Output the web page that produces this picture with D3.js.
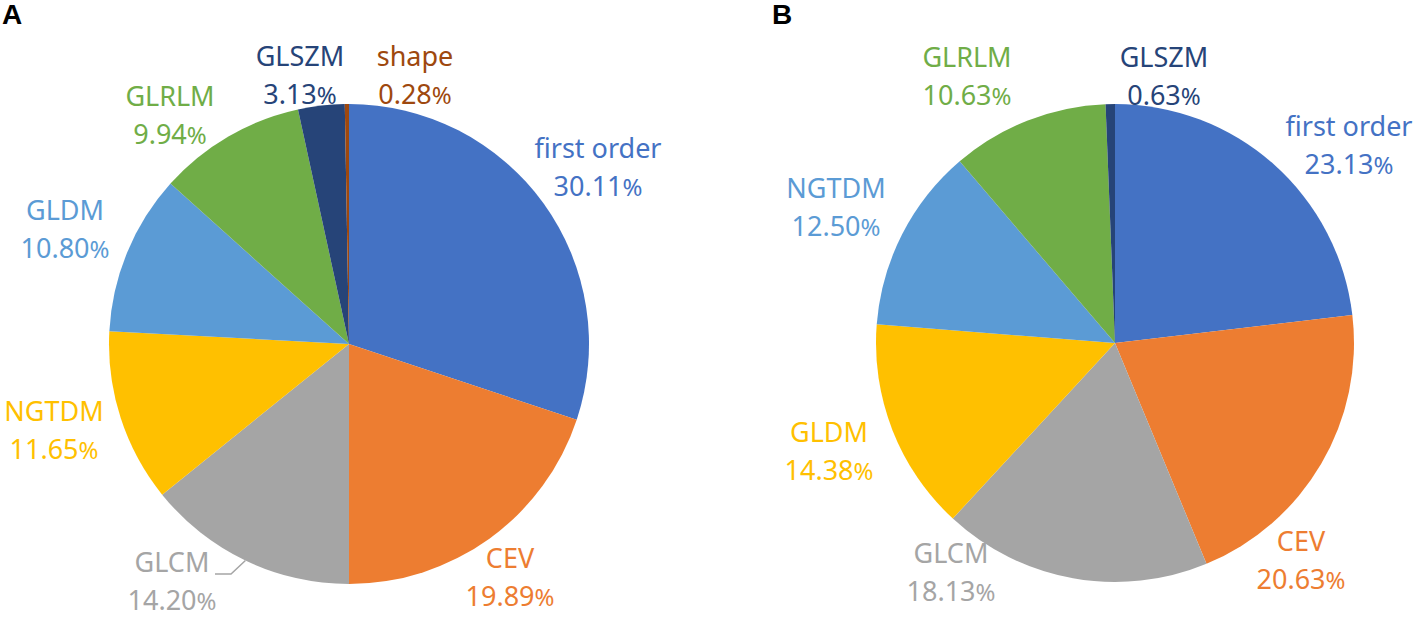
<!DOCTYPE html>
<html>
<head>
<meta charset="utf-8">
<script src="https://cdn.jsdelivr.net/npm/d3@7"></script>
<style>
  html, body { margin: 0; padding: 0; background: #ffffff; }
  svg { display: block; }
</style>
</head>
<body>
<svg id="chart" width="1417" height="617"></svg>
<script>
// ---------- data ----------
const categoriesA = ["first order", "CEV", "GLCM", "NGTDM", "GLDM", "GLRLM", "GLSZM", "shape"];
const valuesA     = [30.11, 19.89, 14.20, 11.65, 10.80, 9.94, 3.13, 0.28];

const categoriesB = ["first order", "CEV", "GLCM", "GLDM", "NGTDM", "GLRLM", "GLSZM"];
const valuesB     = [23.13, 20.63, 18.13, 14.38, 12.50, 10.63, 0.63];

const palette = ["#4472C4", "#ED7D31", "#A5A5A5", "#FFC000", "#5B9BD5", "#70AD47", "#264478", "#9E480E"];

// ---------- layout (label anchors relative to pie centre) ----------
const labelOffsetsA = [[249, -186], [161, 224], [-177, 228], [-295, 77], [-284, -124], [-179, -238], [-49, -278], [66, -278]];
const labelOffsetsB = [[234, -207], [186, 208], [-164, 220], [-286, 99], [-279, -145], [-148, -276], [49, -276]];

const svg = d3.select("#chart");
const FONT = "'Noto Sans', 'DejaVu Sans', sans-serif";

function drawPie(cfg) {
  const g = svg.append("g").attr("transform", `translate(${cfg.cx},${cfg.cy})`);
  const pie = d3.pie().sort(null).value(d => d.value).startAngle(0).endAngle(2 * Math.PI);
  const data = cfg.categories.map((c, i) => ({ name: c, value: cfg.values[i], idx: i }));
  const arcs = pie(data);
  const arc = d3.arc().innerRadius(0).outerRadius(cfg.r);
  const color = d3.scaleOrdinal().domain(d3.range(palette.length)).range(palette);

  g.selectAll("path.slice").data(arcs).enter().append("path")
    .attr("class", "slice")
    .attr("d", arc)
    .attr("fill", d => color(d.data.idx));

  // leader lines
  if (cfg.leader) {
    cfg.leader.forEach(li => {
      const a = arcs[li];
      const mid = (a.startAngle + a.endAngle) / 2;
      const px = cfg.r * Math.sin(mid), py = -cfg.r * Math.cos(mid);
      const off = cfg.offsets[li];
      const lx = off[0] + 43, ly = off[1] + 2;
      g.append("polyline")
        .attr("points", [[lx, ly], [lx + 16, ly], [px, py]].map(p => p.join(",")).join(" "))
        .attr("fill", "none")
        .attr("stroke", color(li))
        .attr("stroke-width", 1.5);
    });
  }

  const lab = g.selectAll("g.lab").data(arcs).enter().append("g")
    .attr("class", "lab")
    .attr("transform", d => `translate(${cfg.offsets[d.data.idx][0]},${cfg.offsets[d.data.idx][1]})`)
    .attr("fill", d => color(d.data.idx))
    .attr("font-family", FONT)
    .attr("font-size", 27)
    .attr("text-anchor", "middle");

  lab.append("text").attr("y", 0).text(d => d.data.name);
  const pct = lab.append("text").attr("y", 38);
  pct.append("tspan").text(d => d.data.value.toFixed(2));
  pct.append("tspan").attr("font-size", 24).text("%");

  svg.append("text")
    .attr("x", cfg.letterX).attr("y", 24)
    .attr("font-family", "'Liberation Sans', Arial, sans-serif")
    .attr("font-weight", "bold")
    .attr("font-size", 28)
    .attr("fill", "#000")
    .text(cfg.letter);
}

drawPie({ cx: 349, cy: 344, r: 240, categories: categoriesA, values: valuesA,
          offsets: labelOffsetsA, leader: [2], letter: "A", letterX: 2 });
drawPie({ cx: 1115, cy: 343, r: 239, categories: categoriesB, values: valuesB,
          offsets: labelOffsetsB, letter: "B", letterX: 772 });
</script>
</body>
</html>
